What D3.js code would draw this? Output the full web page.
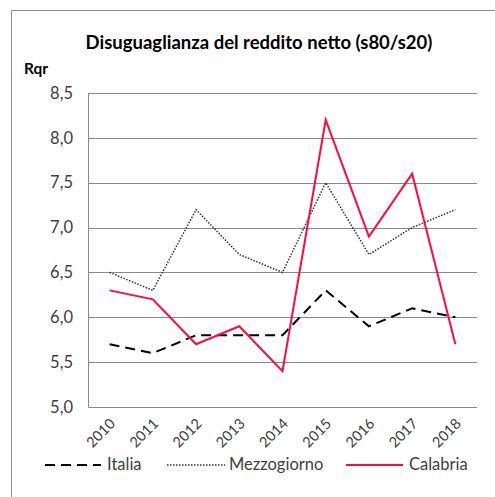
<!DOCTYPE html>
<html>
<head>
<meta charset="utf-8">
<script src="https://cdn.jsdelivr.net/npm/d3@7/dist/d3.min.js"></script>
<style>
  html, body { margin: 0; padding: 0; background: #fff; }
  svg { display: block; }
  text { font-family: Lato, "Open Sans", sans-serif; }
</style>
</head>
<body>
<script>
// Anni e serie: disuguaglianza del reddito netto (rapporto s80/s20)
const years = ["2010", "2011", "2012", "2013", "2014", "2015", "2016", "2017", "2018"];
const italia = [5.7, 5.6, 5.8, 5.8, 5.8, 6.3, 5.9, 6.1, 6.0];
const mezzogiorno = [6.5, 6.3, 7.2, 6.7, 6.5, 7.5, 6.7, 7.0, 7.2];
const calabria = [6.3, 6.2, 5.7, 5.9, 5.4, 8.2, 6.9, 7.6, 5.7];
const yTicks = [5.0, 5.5, 6.0, 6.5, 7.0, 7.5, 8.0, 8.5];

const W = 495, H = 497;
const svg = d3.select("body").append("svg").attr("width", W).attr("height", H);

// cornice esterna
svg.append("path")
  .attr("d", "M11.5,497 V10.5 H495")
  .attr("fill", "none").attr("stroke", "#8c8c8c").attr("stroke-width", 1);

const plot = { left: 88, right: 477, top: 93, bottom: 407 };

const x = d3.scalePoint().domain(years).range([plot.left, plot.right]).padding(0.5);
const y = d3.scaleLinear().domain([5.0, 8.5]).range([plot.bottom, plot.top]);

// griglia orizzontale
svg.append("g").selectAll("line").data(yTicks.slice(1)).join("line")
  .attr("x1", plot.left).attr("x2", plot.right)
  .attr("y1", d => Math.round(y(d)) + 0.5).attr("y2", d => Math.round(y(d)) + 0.5)
  .attr("stroke", "#8a8a8a").attr("stroke-width", 1);

// asse verticale e asse orizzontale
svg.append("path")
  .attr("d", `M${plot.left + 0.5},${plot.top} V${plot.bottom + 0.5} H${plot.right}`)
  .attr("fill", "none").attr("stroke", "#8a8a8a").attr("stroke-width", 1);

// etichette asse y
const fmt = d => d3.format(".1f")(d).replace(".", ",");
svg.append("g").selectAll("text").data(yTicks).join("text")
  .attr("x", 73).attr("y", d => y(d)).attr("dy", "0.35em")
  .attr("text-anchor", "end").attr("font-size", 16.5).attr("fill", "#404040")
  .text(fmt);

// etichette asse x ruotate
svg.append("g").selectAll("text").data(years).join("text")
  .attr("transform", d => `translate(${x(d) + 3},${plot.bottom + 14}) rotate(-45)`)
  .attr("text-anchor", "end").attr("dy", "0.35em")
  .attr("font-size", 14.5).attr("fill", "#404040")
  .text(d => d);

const line = d3.line().x((d, i) => x(years[i])).y(d => y(d));

const series = [
  { name: "Italia", values: italia, color: "#000", width: 2, dash: "10,6" },
  { name: "Mezzogiorno", values: mezzogiorno, color: "#333", width: 1.5, dash: "1.5,1.5" },
  { name: "Calabria", values: calabria, color: "#ff0a3c", width: 2, dash: null }
];

svg.append("g").selectAll("path").data(series).join("path")
  .attr("d", s => line(s.values))
  .attr("fill", "none")
  .attr("stroke", s => s.color)
  .attr("stroke-width", s => s.width)
  .attr("stroke-dasharray", s => s.dash);

// titolo
svg.append("text")
  .attr("x", 259).attr("y", 49).attr("text-anchor", "middle")
  .attr("font-size", 18.5).attr("font-weight", "bold").attr("fill", "#000")
  .text("Disuguaglianza del reddito netto (s80/s20)");

// etichetta unità
svg.append("text")
  .attr("x", 24).attr("y", 74)
  .attr("font-size", 15.5).attr("font-weight", "bold").attr("fill", "#000")
  .text("Rqr");

// legenda
const legendItems = [
  { s: series[0], x1: 45, x2: 101, tx: 107 },
  { s: series[1], x1: 167, x2: 225, tx: 229 },
  { s: series[2], x1: 346, x2: 403, tx: 409 }
];
const lg = svg.append("g");
lg.selectAll("line").data(legendItems).join("line")
  .attr("x1", d => d.x1).attr("x2", d => d.x2)
  .attr("y1", 465).attr("y2", 465)
  .attr("stroke", d => d.s.color)
  .attr("stroke-width", d => d.s.width)
  .attr("stroke-dasharray", d => d.s.dash);
lg.selectAll("text").data(legendItems).join("text")
  .attr("x", d => d.tx).attr("y", 464).attr("dy", "0.35em")
  .attr("font-size", 16.5).attr("fill", "#404040")
  .text(d => d.s.name);
</script>
</body>
</html>
